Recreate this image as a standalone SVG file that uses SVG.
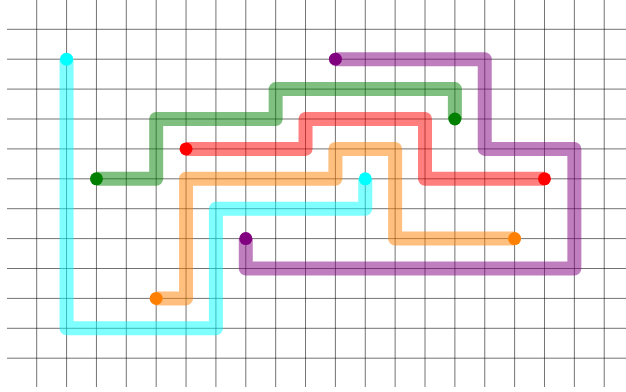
<svg xmlns="http://www.w3.org/2000/svg" width="626" height="392" viewBox="0 0 626 392">
<style>
.g line{stroke:#000;stroke-opacity:0.55;stroke-width:1}
.w{fill:none;stroke-width:14;stroke-opacity:0.5;stroke-linejoin:round;stroke-linecap:butt}
</style>
<rect width="626" height="392" fill="#fff"/>
<g class="g" id="grid">
<line x1="7" y1="29.3" x2="626" y2="29.3"/><line x1="7" y1="59.2" x2="626" y2="59.2"/><line x1="7" y1="89.1" x2="626" y2="89.1"/><line x1="7" y1="119" x2="626" y2="119"/><line x1="7" y1="148.9" x2="626" y2="148.9"/><line x1="7" y1="178.8" x2="626" y2="178.8"/><line x1="7" y1="208.7" x2="626" y2="208.7"/><line x1="7" y1="238.6" x2="626" y2="238.6"/><line x1="7" y1="268.5" x2="626" y2="268.5"/><line x1="7" y1="298.4" x2="626" y2="298.4"/><line x1="7" y1="328.3" x2="626" y2="328.3"/><line x1="7" y1="358.2" x2="626" y2="358.2"/>
<line x1="36.7" y1="0" x2="36.7" y2="387"/><line x1="66.57" y1="0" x2="66.57" y2="387"/><line x1="96.44" y1="0" x2="96.44" y2="387"/><line x1="126.31" y1="0" x2="126.31" y2="387"/><line x1="156.18" y1="0" x2="156.18" y2="387"/><line x1="186.05" y1="0" x2="186.05" y2="387"/><line x1="215.92" y1="0" x2="215.92" y2="387"/><line x1="245.79" y1="0" x2="245.79" y2="387"/><line x1="275.66" y1="0" x2="275.66" y2="387"/><line x1="305.53" y1="0" x2="305.53" y2="387"/><line x1="335.4" y1="0" x2="335.4" y2="387"/><line x1="365.27" y1="0" x2="365.27" y2="387"/><line x1="395.14" y1="0" x2="395.14" y2="387"/><line x1="425.01" y1="0" x2="425.01" y2="387"/><line x1="454.88" y1="0" x2="454.88" y2="387"/><line x1="484.75" y1="0" x2="484.75" y2="387"/><line x1="514.62" y1="0" x2="514.62" y2="387"/><line x1="544.49" y1="0" x2="544.49" y2="387"/><line x1="574.36" y1="0" x2="574.36" y2="387"/><line x1="604.23" y1="0" x2="604.23" y2="387"/>
</g>
<g id="connectors">
<path class="w" stroke="#00ffff" d="M66.57 59.2V328.3H215.92V208.7H365.27V178.8"/>
<path class="w" stroke="#008000" d="M96.44 178.8H156.18V119H275.66V89.1H454.88V119"/>
<path class="w" stroke="#ff0000" d="M186.05 148.9H305.53V119H425.01V178.8H544.49"/>
<path class="w" stroke="#ff8000" d="M156.18 298.4H186.05V178.8H335.4V148.9H395.14V238.6H514.62"/>
<path class="w" stroke="#800080" d="M245.79 238.6V268.5H574.36V148.9H484.75V59.2H335.4"/>
</g>
<g id="cyan-start"><circle cx="66.57" cy="59.2" r="6.5" fill="#00ffff"/></g>
<g id="cyan-end"><circle cx="365.27" cy="178.8" r="6.5" fill="#00ffff"/></g>
<g id="green-start"><circle cx="96.44" cy="178.8" r="6.5" fill="#008000"/></g>
<g id="green-end"><circle cx="454.88" cy="119" r="6.5" fill="#008000"/></g>
<g id="red-start"><circle cx="186.05" cy="148.9" r="6.5" fill="#ff0000"/></g>
<g id="red-end"><circle cx="544.49" cy="178.8" r="6.5" fill="#ff0000"/></g>
<g id="orange-start"><circle cx="156.18" cy="298.4" r="6.5" fill="#ff8000"/></g>
<g id="orange-end"><circle cx="514.62" cy="238.6" r="6.5" fill="#ff8000"/></g>
<g id="purple-start"><circle cx="245.79" cy="238.6" r="6.5" fill="#800080"/></g>
<g id="purple-end"><circle cx="335.4" cy="59.2" r="6.5" fill="#800080"/></g>
</svg>
